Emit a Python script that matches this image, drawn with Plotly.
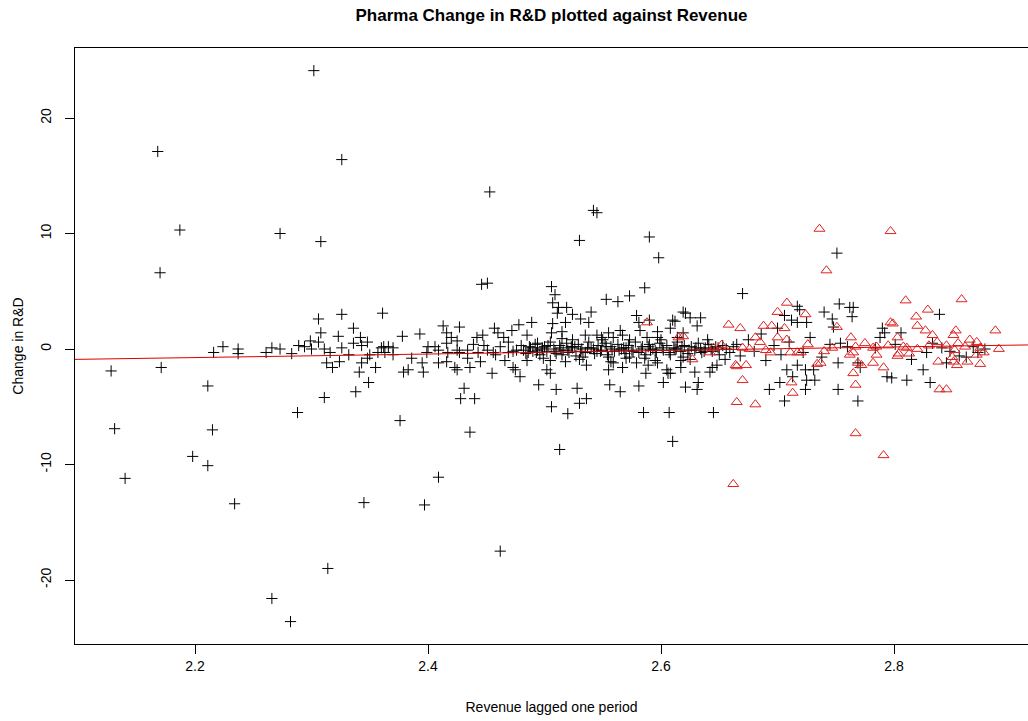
import plotly.graph_objects as go

# ---- data: black crosses (revenue lagged, change in R&D) ----
rev_black = [
    2.302, 2.168, 2.326, 2.453, 2.542, 2.545, 2.187, 2.273, 2.308, 2.530,
    2.590, 2.598, 2.170, 2.446, 2.451, 2.751, 2.670, 2.128, 2.171, 2.211,
    2.131, 2.215, 2.198, 2.211, 2.140, 2.234, 2.266, 2.282, 2.314, 2.345,
    2.288, 2.311, 2.338, 2.349, 2.355, 2.341, 2.343, 2.348, 2.313, 2.318,
    2.324, 2.376, 2.397, 2.409, 2.436, 2.462, 2.513, 2.610, 2.431, 2.428,
    2.440, 2.506, 2.520, 2.530, 2.536, 2.565, 2.556, 2.581, 2.585, 2.607,
    2.602, 2.510, 2.528, 2.495, 2.506, 2.509, 2.507, 2.512, 2.519, 2.511,
    2.524, 2.540, 2.531, 2.538, 2.553, 2.563, 2.573, 2.586, 2.579, 2.581,
    2.590, 2.612, 2.361, 2.413, 2.427, 2.457, 2.478, 2.489, 2.507, 2.518,
    2.306, 2.326, 2.308, 2.336, 2.323, 2.342, 2.299, 2.336, 2.348, 2.224,
    2.237, 2.237, 2.266, 2.273, 2.289, 2.326, 2.216, 2.261, 2.283, 2.294,
    2.300, 2.306, 2.311, 2.316, 2.332, 2.343, 2.350, 2.357, 2.360, 2.378,
    2.393, 2.416, 2.420, 2.425, 2.460, 2.472, 2.447, 2.442, 2.465, 2.469,
    2.485, 2.362, 2.366, 2.370, 2.363, 2.370, 2.386, 2.383, 2.379, 2.396,
    2.395, 2.400, 2.406, 2.399, 2.409, 2.416, 2.417, 2.409, 2.416, 2.423,
    2.425, 2.434, 2.434, 2.443, 2.451, 2.436, 2.445, 2.455, 2.456, 2.458,
    2.473, 2.475, 2.479, 2.469, 2.473, 2.486, 2.490, 2.494, 2.498, 2.466,
    2.485, 2.425, 2.427, 2.506, 2.515, 2.524, 2.535, 2.545, 2.555, 2.549,
    2.565, 2.567, 2.582, 2.597, 2.597, 2.588, 2.614, 2.619, 2.559, 2.573,
    2.494, 2.499, 2.505, 2.515, 2.518, 2.502, 2.505, 2.533, 2.536, 2.555,
    2.557, 2.559, 2.555, 2.567, 2.573, 2.579, 2.586, 2.595, 2.605, 2.606,
    2.608, 2.617, 2.619, 2.480, 2.484, 2.488, 2.492, 2.496, 2.500, 2.502,
    2.505, 2.508, 2.510, 2.513, 2.516, 2.519, 2.521, 2.524, 2.527, 2.529,
    2.532, 2.535, 2.538, 2.540, 2.543, 2.546, 2.549, 2.552, 2.554, 2.557,
    2.560, 2.563, 2.566, 2.569, 2.572, 2.575, 2.578, 2.581, 2.584, 2.587,
    2.590, 2.593, 2.596, 2.599, 2.602, 2.605, 2.608, 2.611, 2.614, 2.617,
    2.620, 2.623, 2.626, 2.629, 2.632, 2.635, 2.638, 2.641, 2.644, 2.647,
    2.650, 2.653, 2.656, 2.659, 2.662, 2.523, 2.545, 2.568, 2.591, 2.612,
    2.634, 2.515, 2.530, 2.550, 2.570, 2.600, 2.625, 2.640, 2.655, 2.448,
    2.462, 2.439, 2.476, 2.753, 2.762, 2.765, 2.764, 2.839, 2.717, 2.719,
    2.619, 2.621, 2.610, 2.625, 2.634, 2.631, 2.608, 2.706, 2.717, 2.725,
    2.747, 2.748, 2.790, 2.792, 2.788, 2.806, 2.754, 2.760, 2.784, 2.828,
    2.841, 2.856, 2.868, 2.872, 2.752, 2.769, 2.771, 2.731, 2.717, 2.724,
    2.708, 2.702, 2.713, 2.725, 2.732, 2.693, 2.706, 2.724, 2.752, 2.769,
    2.794, 2.798, 2.811, 2.825, 2.831, 2.845, 2.648, 2.644, 2.642, 2.629,
    2.632, 2.621, 2.631, 2.645, 2.587, 2.597, 2.617, 2.589, 2.665, 2.668,
    2.675, 2.680, 2.686, 2.690, 2.697, 2.703, 2.710, 2.722, 2.728, 2.738,
    2.745, 2.700, 2.712, 2.740, 2.801, 2.815, 2.833, 2.848, 2.862, 2.878,
    2.482, 2.487, 2.493, 2.498, 2.503, 2.509, 2.514, 2.520, 2.526, 2.531,
    2.537, 2.542, 2.548, 2.553, 2.558, 2.564, 2.570, 2.576, 2.583, 2.589,
    2.595, 2.601, 2.607, 2.613, 2.618, 2.624, 2.630, 2.637, 2.643, 2.649,
]
chg_black = [
    24.1, 17.1, 16.4, 13.6, 12.0, 11.8, 10.3, 10.0, 9.3, 9.4,
    9.7, 7.9, 6.6, 5.6, 5.7, 8.3, 4.8, -1.9, -1.6, -3.2,
    -6.9, -7.0, -9.3, -10.1, -11.2, -13.4, -21.6, -23.6, -19.0, -13.3,
    -5.5, -4.2, -3.7, -2.9, -1.6, -2.0, -1.2, -0.8, -1.2, -1.6,
    -1.1, -6.2, -13.5, -11.1, -7.2, -17.5, -8.7, -8.0, -3.4, -4.3,
    -4.3, -5.0, -5.6, -4.7, -4.3, -3.7, -3.1, -3.2, -5.5, -5.5,
    -2.9, -3.5, -3.4, -3.1, 5.4, 4.7, 4.0, 3.6, 3.6, 3.1,
    3.0, 3.2, 2.6, 2.3, 4.3, 4.1, 4.6, 5.3, 2.9, 2.3,
    2.5, 2.4, 3.1, 2.0, 1.9, 1.8, 2.1, 2.3, 2.2, 2.3,
    2.6, 3.0, 1.4, 1.8, 1.1, 1.0, 0.7, 0.5, 0.6, 0.2,
    0.0, -0.4, 0.1, 0.0, 0.3, 0.1, -0.3, -0.3, -0.4, 0.2,
    0.0, 0.6, 0.0, -0.3, -0.5, 0.3, -0.5, -0.3, 0.1, 1.1,
    1.3, 1.4, 1.0, 0.7, 1.4, 1.6, 1.2, 1.0, 1.0, 0.6,
    1.2, 0.2, 0.2, 0.1, -0.3, -0.5, -0.8, -1.8, -2.0, -2.0,
    -1.2, 0.2, 0.2, -0.3, -0.1, 0.5, -0.3, -1.2, -1.1, -1.6,
    -1.8, -0.1, -0.8, -0.3, -0.1, -1.6, -1.1, -2.1, -0.3, -0.5,
    -1.6, -1.8, -2.4, -0.3, -0.2, -0.3, -0.2, -0.1, 0.1, -1.0,
    -1.0, -0.1, -0.3, 1.4, 1.5, 0.8, 1.2, 1.2, 1.4, 1.0,
    1.6, 1.2, 1.6, 1.5, 1.0, 1.0, 1.0, 1.4, 1.0, 0.8,
    0.5, -0.8, -1.0, -0.5, -1.1, -1.8, -2.1, -0.7, -1.4, -0.7,
    -1.1, -1.2, -1.8, -1.6, -0.7, -1.2, -0.8, -1.0, -1.8, -2.1,
    -2.1, -1.6, -0.7, 0.3, -0.4, 0.1, 0.4, -0.5, 0.2, -0.2,
    0.6, 0.0, -0.4, 0.3, -0.1, 0.5, -0.3, 0.1, -0.6, 0.4,
    0.0, -0.3, 0.6, 0.1, -0.4, 0.3, -0.1, 0.5, -0.5, 0.2,
    -0.2, 0.4, 0.0, -0.4, 0.3, -0.1, 0.6, -0.3, 0.2, -0.5,
    0.4, 0.0, -0.3, 0.5, -0.1, 0.3, -0.5, 0.1, 0.6, -0.2,
    0.3, -0.4, 0.2, -0.1, 0.5, -0.3, 0.1, 0.4, -0.2, 0.2,
    -0.5, 0.3, 0.0, -0.3, 0.2, 0.2, -0.2, 0.1, -0.1, 0.0,
    0.0, 0.9, -0.9, 0.8, -0.8, 0.8, -0.9, 0.8, -0.9, 0.3,
    0.2, 0.4, -0.1, 3.9, 3.6, 3.6, 2.8, 3.0, 3.7, 3.4,
    3.2, 3.1, 2.5, 2.7, 2.7, 2.0, 1.8, 2.9, 2.3, 2.3,
    2.6, 1.9, 1.8, 1.4, 1.0, 1.4, 0.5, 0.2, 0.1, -0.3,
    0.1, -0.6, 0.2, -0.3, -1.2, -1.2, -1.6, -1.8, -1.4, -1.8,
    -1.8, -2.9, -2.4, -2.7, -2.7, -3.5, -4.5, -3.5, -3.5, -4.5,
    -2.4, -2.5, -2.7, -1.8, -2.9, -1.2, -1.4, -1.6, -2.0, -2.0,
    -2.9, -3.3, -3.5, -5.5, -2.1, -1.2, -1.0, -1.4, 0.4, -0.6,
    0.8, -0.2, 1.3, -1.0, 0.3, -0.5, 0.6, -0.3, 1.0, -0.7,
    0.4, 1.8, 2.5, 3.2, 0.4, -0.9, 0.5, -0.2, -0.7, 0.0,
    -0.1, 0.2, -0.3, 0.0, 0.3, -0.2, 0.1, -0.1, 0.2, -0.2,
    0.1, 0.0, -0.2, 0.2, 0.0, -0.1, 0.1, -0.2, 0.0, 0.2,
    -0.1, 0.1, -0.3, 0.0, 0.2, -0.1, 0.1, -0.2, 0.0, 0.1,
]

# ---- data: red triangles ----
rev_red = [
    2.736, 2.797, 2.742, 2.708, 2.700, 2.724, 2.810, 2.858, 2.829, 2.819,
    2.797, 2.799, 2.820, 2.827, 2.887, 2.853, 2.851, 2.833, 2.658, 2.668,
    2.688, 2.695, 2.751, 2.763, 2.803, 2.837, 2.865, 2.871, 2.890, 2.588,
    2.681, 2.708, 2.717, 2.765, 2.782, 2.785, 2.808, 2.811, 2.852, 2.874,
    2.877, 2.855, 2.861, 2.838, 2.851, 2.854, 2.863, 2.874, 2.850, 2.871,
    2.765, 2.767, 2.839, 2.845, 2.767, 2.791, 2.665, 2.681, 2.670, 2.665,
    2.673, 2.712, 2.713, 2.734, 2.737, 2.772, 2.782, 2.791, 2.813, 2.803,
    2.804, 2.747, 2.762, 2.769, 2.662, 2.706, 2.700, 2.685, 2.652, 2.645,
    2.642, 2.670, 2.676, 2.690, 2.694, 2.711, 2.720, 2.627, 2.664, 2.767,
    2.775, 2.615, 2.619, 2.740, 2.795, 2.820, 2.830, 2.845, 2.785, 2.726,
]
chg_red = [
    10.4, 10.2, 6.8, 4.0, 3.2, 3.0, 4.2, 4.3, 3.4, 2.8,
    2.3, 2.2, 2.0, 1.6, 1.6, 1.6, 1.2, 1.2, 2.1, 1.8,
    2.0, 2.0, 1.9, 1.0, 1.0, 0.6, 0.8, 0.6, 0.0, 2.3,
    1.0, 0.8, -0.3, -0.3, 0.1, 0.2, 0.2, 0.1, -0.1, 0.1,
    -0.3, 0.5, 0.2, -1.1, -1.1, -1.4, -1.1, -1.3, -0.7, -0.5,
    -2.1, -3.1, -3.5, -3.5, -7.3, -9.2, -4.6, -4.8, -2.7, -1.5,
    -1.4, -2.9, -3.8, -1.3, -1.2, -1.4, -1.2, -1.6, -0.4, -0.6,
    -0.4, 0.1, -0.5, -1.2, -11.7, 1.8, 1.0, 0.6, 0.35, 0.1,
    -0.3, 0.1, 0.0, -0.1, -0.3, -0.3, -0.3, -0.9, -1.4, 0.2,
    0.5, 1.0, 1.1, -0.2, 0.3, 0.0, 0.3, 0.3, -0.5, 0.4,
]

# ---- fitted line (intercept, slope) and axis settings ----
fit_intercept = -4.108
fit_slope = 1.53
x_range = [2.097, 2.915]
y_range = [-25.54, 26.06]
x_ticks = [2.2, 2.4, 2.6, 2.8]
y_ticks = [-20, -10, 0, 10, 20]

FONT = "Liberation Sans, Arial, sans-serif"

fig = go.Figure()
fig.add_trace(go.Scatter(
    x=rev_black, y=chg_black, mode="markers",
    marker=dict(symbol="cross-thin-open", size=8, color="black",
                line=dict(color="black", width=1)),
    showlegend=False, hoverinfo="x+y"))
fig.add_trace(go.Scatter(
    x=rev_red, y=chg_red, mode="markers",
    marker=dict(symbol="triangle-up-open", size=9.5, color="#DD2222",
                line=dict(color="#DD2222", width=1)),
    showlegend=False, hoverinfo="x+y"))
fig.add_trace(go.Scatter(
    x=x_range, y=[fit_intercept + fit_slope * v for v in x_range],
    mode="lines", line=dict(color="#DD0000", width=1),
    showlegend=False, hoverinfo="skip"))

fig.update_layout(
    width=1028, height=721,
    margin=dict(l=75, r=0, t=48, b=77),
    paper_bgcolor="white", plot_bgcolor="white",
    font=dict(family=FONT, size=13, color="black"),
    title=dict(text="<b>Pharma Change in R&D plotted against Revenue</b>",
               x=0.5, xref="paper", xanchor="center", y=1 - 15 / 721,
               yanchor="middle", yref="container",
               font=dict(family=FONT, size=17, color="black")),
    xaxis=dict(range=x_range, tickvals=x_ticks, ticktext=[str(t) for t in x_ticks],
               showgrid=False, zeroline=False, showline=True, mirror=True,
               linecolor="black", linewidth=1, ticks="outside", ticklen=9,
               tickcolor="black", tickfont=dict(size=14),
               title=dict(text="Revenue lagged one period", standoff=29,
                          font=dict(size=14))),
    yaxis=dict(range=y_range, tickvals=y_ticks, ticktext=[str(t) for t in y_ticks],
               showgrid=False, zeroline=False, showline=True, mirror=True,
               linecolor="black", linewidth=1, ticks="outside", ticklen=9,
               tickcolor="black", tickangle=-90, tickfont=dict(size=14),
               ticklabelstandoff=8,
               title=dict(text="Change in R&D", standoff=11, font=dict(size=14))),
)

fig.write_html("out.html")
